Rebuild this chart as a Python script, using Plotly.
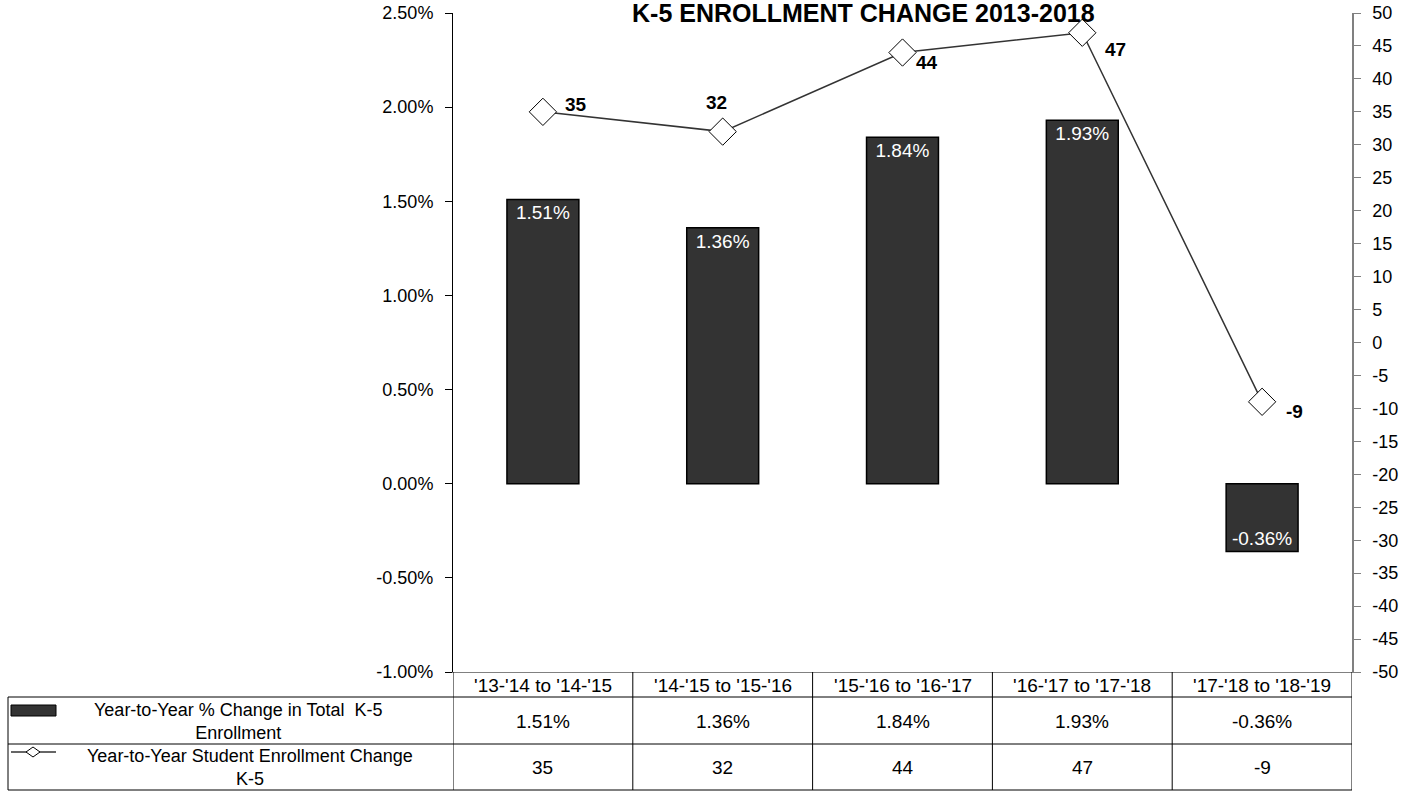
import plotly.graph_objects as go

# ---- data ----
categories = ["'13-'14 to '14-'15", "'14-'15 to '15-'16", "'15-'16 to '16-'17",
              "'16-'17 to '17-'18", "'17-'18 to '18-'19"]
pct_change = [1.51, 1.36, 1.84, 1.93, -0.36]          # % change in total K-5 enrollment
enroll_change = [35, 32, 44, 47, -9]                  # student enrollment change
series_names = ["Year-to-Year % Change in Total  K-5<br>Enrollment",
                "Year-to-Year Student Enrollment Change<br>K-5"]
title_text = "K-5 ENROLLMENT CHANGE 2013-2018"
left_tick_vals = [-1.0, -0.5, 0.0, 0.5, 1.0, 1.5, 2.0, 2.5]
left_tick_text = ["-1.00%", "-0.50%", "0.00%", "0.50%", "1.00%", "1.50%", "2.00%", "2.50%"]
right_tick_vals = [-50, -45, -40, -35, -30, -25, -20, -15, -10, -5,
                   0, 5, 10, 15, 20, 25, 30, 35, 40, 45, 50]
right_tick_text = ["-50", "-45", "-40", "-35", "-30", "-25", "-20", "-15", "-10", "-5",
                   "0", "5", "10", "15", "20", "25", "30", "35", "40", "45", "50"]

# ---- layout constants (pixels) ----
W, H = 1418, 792
L, R, T, B = 453, 66, 13, 120
PH = H - T - B  # plot height
PW = W - L - R


def py(p):
    """pixel y -> paper y"""
    return (H - B - p) / PH


def px(p):
    """pixel x -> paper x"""
    return (p - L) / PW


FONT = "Liberation Sans, Arial, sans-serif"
DARK = "#333333"
TABLE_FS = 19

fig = go.Figure()

fig.add_trace(go.Bar(
    x=list(range(len(categories))), y=pct_change, width=0.4,
    marker=dict(color=DARK, line=dict(color="black", width=1.5)),
    texttemplate="%{y:.2f}%", textposition="inside", insidetextanchor="end",
    textangle=0, constraintext="none",
    textfont=dict(color="white", size=19, family=FONT),
    name="pct", showlegend=False, yaxis="y", hoverinfo="skip"))

fig.add_trace(go.Scatter(
    x=list(range(len(categories))), y=enroll_change, mode="lines+markers",
    line=dict(color=DARK, width=1.5),
    marker=dict(symbol="diamond", size=21, color="white",
                line=dict(color="black", width=1)),
    name="enroll", showlegend=False, yaxis="y2", cliponaxis=False, hoverinfo="skip"))

annotations = []
# line data labels (offsets in pixels)
label_offsets = [(33, 7), (-6, 29), (24, -10), (33, -17), (32, -10)]
for i, v in enumerate(enroll_change):
    dx, dy = label_offsets[i]
    annotations.append(dict(x=i, y=v, xref="x", yref="y2", text=f"<b>{v}</b>",
                            showarrow=False, xshift=dx, yshift=dy,
                            font=dict(size=19, family=FONT, color="black")))

# title
annotations.append(dict(x=px(863), y=py(13), xref="paper", yref="paper",
                        text=f"<b>{title_text}</b>", showarrow=False,
                        xanchor="center", yanchor="middle",
                        font=dict(size=25, family=FONT, color="black")))

# data table: header, values
row_y = {"head": 685, "pct": 721, "enr": 767}
for i, c in enumerate(categories):
    annotations.append(dict(x=i, y=py(row_y["head"]), xref="x", yref="paper",
                            text=c, showarrow=False, yanchor="middle",
                            font=dict(size=TABLE_FS, family=FONT, color="black")))
    annotations.append(dict(x=i, y=py(row_y["pct"]), xref="x", yref="paper",
                            text=f"{pct_change[i]:.2f}%", showarrow=False, yanchor="middle",
                            font=dict(size=TABLE_FS, family=FONT, color="black")))
    annotations.append(dict(x=i, y=py(row_y["enr"]), xref="x", yref="paper",
                            text=f"{enroll_change[i]}", showarrow=False, yanchor="middle",
                            font=dict(size=TABLE_FS, family=FONT, color="black")))

# row titles
for name, xc, yc in zip(series_names, [238, 250], [721, 767]):
    annotations.append(dict(x=px(xc), y=py(yc), xref="paper", yref="paper",
                            text=name, showarrow=False, align="center",
                            xanchor="center", yanchor="middle",
                            font=dict(size=18, family=FONT, color="black")))

shapes = []
n = len(categories)
line_style = dict(color="black", width=1)
# vertical lines of table (category boundaries)
for k in range(n + 1):
    shapes.append(dict(type="line", xref="x", yref="paper", x0=k - 0.5, x1=k - 0.5,
                       y0=py(672), y1=py(790), line=line_style))
# left column vertical edge
shapes.append(dict(type="line", xref="paper", yref="paper", x0=px(8), x1=px(8),
                   y0=py(697), y1=py(790), line=line_style))
# horizontal lines
for yy in [697, 744, 790]:
    shapes.append(dict(type="line", xref="paper", yref="paper", x0=px(8), x1=1,
                       y0=py(yy), y1=py(yy), line=line_style))
# legend keys
shapes.append(dict(type="rect", xref="paper", yref="paper", x0=px(11), x1=px(56),
                   y0=py(716), y1=py(705), fillcolor=DARK,
                   line=dict(color="black", width=1)))
shapes.append(dict(type="line", xref="paper", yref="paper", x0=px(11), x1=px(56),
                   y0=py(752), y1=py(752), line=dict(color=DARK, width=1.5)))
shapes.append(dict(type="path", xref="paper", yref="paper",
                   path=(f"M {px(26)} {py(752)} L {px(33)} {py(747)} "
                         f"L {px(40)} {py(752)} L {px(33)} {py(757)} Z"),
                   fillcolor="white", line=dict(color="black", width=1)))

fig.update_layout(
    width=W, height=H,
    margin=dict(l=L, r=R, t=T, b=B, pad=0, autoexpand=False),
    paper_bgcolor="white", plot_bgcolor="white",
    font=dict(family=FONT, size=18, color="black"),
    xaxis=dict(range=[-0.5, n - 0.5], showticklabels=False, ticks="",
               showgrid=False, zeroline=False, showline=True, automargin=False,
               linecolor="#808080", linewidth=1, fixedrange=True),
    yaxis=dict(range=[-1.0, 2.5], tickmode="array", tickvals=left_tick_vals,
               ticktext=left_tick_text,
               showgrid=False, zeroline=False, showline=True, linecolor="black",
               linewidth=1, ticks="outside", ticklen=7, tickcolor="black",
               automargin=False, ticklabelstandoff=8,
               tickfont=dict(size=18, family=FONT, color="black")),
    yaxis2=dict(range=[-50, 50], tickmode="array", tickvals=right_tick_vals,
                ticktext=right_tick_text, overlaying="y", side="right",
                showgrid=False, zeroline=False, showline=True, linecolor="#808080",
                linewidth=1.5, ticks="outside", ticklen=7, tickcolor="#808080",
                automargin=False, ticklabelstandoff=8,
                tickfont=dict(size=18, family=FONT, color="black")),
    annotations=annotations, shapes=shapes, showlegend=False,
)

fig.write_html("out.html", config={"displayModeBar": False},
               post_script="document.body.style.margin='0';document.body.style.padding='0';")
